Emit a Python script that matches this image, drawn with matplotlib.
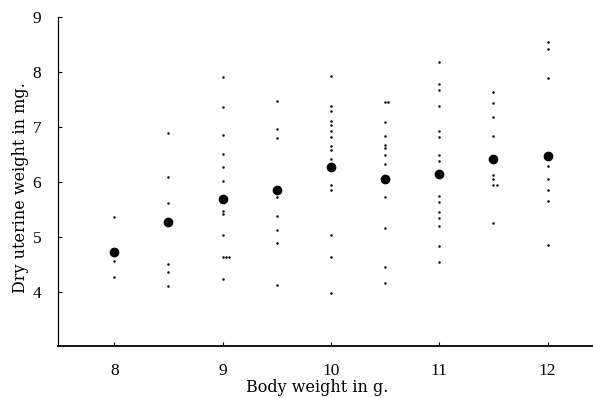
import matplotlib
matplotlib.use("Agg")
import matplotlib.pyplot as plt

# Group means (large dots)
mean_x = [8, 8.5, 9, 9.5, 10, 10.5, 11, 11.5, 12]
mean_y = [4.73, 5.27, 5.69, 5.86, 6.27, 6.05, 6.14, 6.42, 6.48]

# Individual observations (small dots), one list per body-weight column
obs_8 = [5.36, 4.56, 4.27]
obs_8_5 = [6.89, 6.09, 5.62, 4.51, 4.36, 4.11]
obs_9 = [7.91, 7.36, 6.85, 6.51, 6.27, 6.02, 5.47, 5.42, 5.04, 4.64, 4.24]
obs_9_side = [4.64, 4.64]          # coincident values drawn beside the column
obs_9_5 = [7.47, 6.96, 6.80, 5.73, 5.38, 5.13, 4.89, 4.13]
obs_10 = [7.93, 7.38, 7.30, 7.11, 7.04, 6.93, 6.82, 6.66, 6.58, 6.42,
          5.95, 5.85, 5.04, 4.63, 3.98]
obs_10_5 = [7.45, 7.09, 6.84, 6.67, 6.62, 6.49, 6.33, 5.72, 5.16, 4.45, 4.16]
obs_10_5_side = [7.45]
obs_11 = [8.18, 7.78, 7.68, 7.38, 6.92, 6.82, 6.50, 6.38, 5.75, 5.64,
          5.45, 5.35, 5.20, 4.84, 4.55]
obs_11_5 = [7.64, 7.44, 7.18, 6.84, 6.12, 6.05, 5.95, 5.25]
obs_11_5_side = [5.95]
obs_12 = [8.55, 8.42, 7.89, 6.29, 6.05, 5.85, 5.65, 4.85]

columns = [
    (8, 0, obs_8), (8.5, 0, obs_8_5), (9, 0, obs_9), (9, 1, obs_9_side),
    (9.5, 0, obs_9_5), (10, 0, obs_10), (10.5, 0, obs_10_5),
    (10.5, 1, obs_10_5_side), (11, 0, obs_11), (11.5, 0, obs_11_5),
    (11.5, 1, obs_11_5_side), (12, 0, obs_12),
]

x_ticks = [8, 9, 10, 11, 12]
y_ticks = [4, 5, 6, 7, 8, 9]

plt.rcParams['font.family'] = ['Liberation Serif', 'DejaVu Serif']

fig = plt.figure(figsize=(5.93, 3.98), dpi=100)
ax = fig.add_axes([58 / 593, 1 - 346 / 398, 1 - 58 / 593, (346 - 17) / 398])

for xc, side, ys in columns:
    xs = [xc + side * 0.03 * (i + 1) for i in range(len(ys))]
    ax.plot(xs, ys, linestyle='none', marker='o', markersize=1.8,
            color='black', markeredgewidth=0)
ax.plot(mean_x, mean_y, linestyle='none', marker='o', markersize=7,
        color='black', markeredgewidth=0)

ax.set_xlim(7.48, 12.42)
ax.set_ylim(3.02, 9.0)
ax.set_xticks(x_ticks)
ax.set_yticks(y_ticks)
ax.tick_params(direction='in', length=3, width=0.8, labelsize=12.5)
ax.tick_params(axis='y', pad=12)
ax.tick_params(axis='x', pad=12)

for s in ['top', 'right']:
    ax.spines[s].set_visible(False)
ax.spines['left'].set_linewidth(0.9)
ax.spines['bottom'].set_linewidth(1.3)

ax.set_xlabel('Body weight in g.', fontsize=11.5, family='DejaVu Serif',
              va='center')
ax.xaxis.set_label_coords((317 - 58) / 535, (346 - 388) / 329)
ax.set_ylabel('Dry uterine weight in mg.', fontsize=11.5,
              family='DejaVu Serif', va='center')
ax.yaxis.set_label_coords((21 - 58) / 535, (346 - 188) / 329)

fig.savefig('out.png', dpi=100)
